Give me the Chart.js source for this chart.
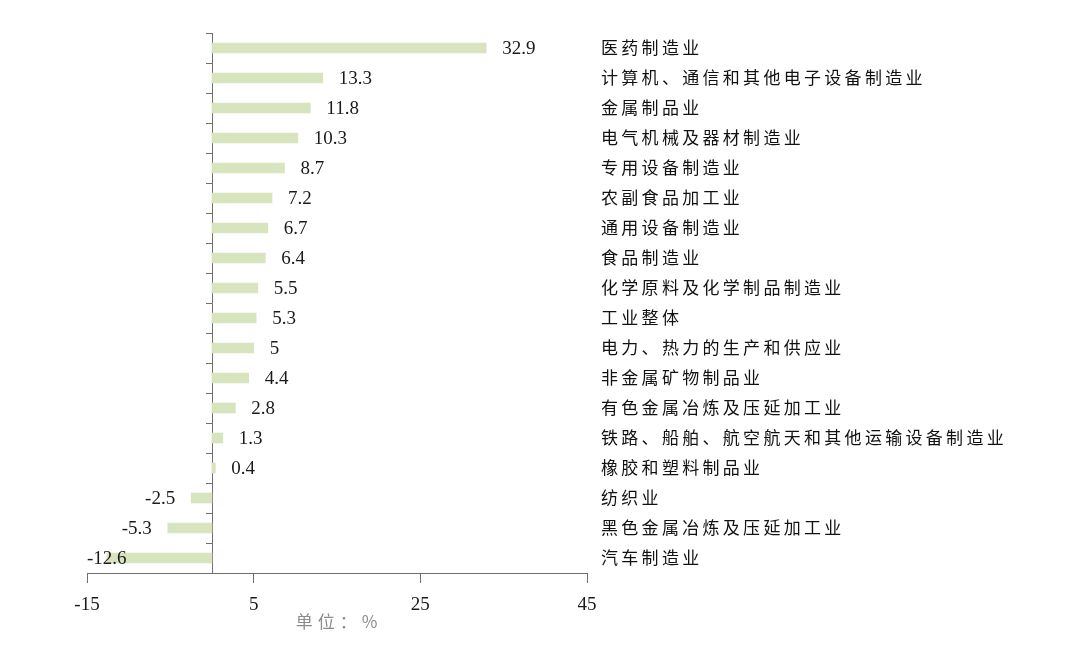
<!DOCTYPE html>
<html>
<head>
<meta charset="utf-8">
<script src="https://cdn.jsdelivr.net/npm/chart.js@4/dist/chart.umd.min.js"></script>
<style>
html,body{margin:0;padding:0;background:#fff;}
#wrap{width:1080px;height:648px;position:relative;}
</style>
</head>
<body>
<div id="wrap"><canvas id="c"></canvas></div>
<script>
const categories = [
  "医药制造业",
  "计算机、通信和其他电子设备制造业",
  "金属制品业",
  "电气机械及器材制造业",
  "专用设备制造业",
  "农副食品加工业",
  "通用设备制造业",
  "食品制造业",
  "化学原料及化学制品制造业",
  "工业整体",
  "电力、热力的生产和供应业",
  "非金属矿物制品业",
  "有色金属冶炼及压延加工业",
  "铁路、船舶、航空航天和其他运输设备制造业",
  "橡胶和塑料制品业",
  "纺织业",
  "黑色金属冶炼及压延加工业",
  "汽车制造业"
];
const values = [32.9, 13.3, 11.8, 10.3, 8.7, 7.2, 6.7, 6.4, 5.5, 5.3, 5, 4.4, 2.8, 1.3, 0.4, -2.5, -5.3, -12.6];
const xTicks = [-15, 5, 25, 45];
const unitLabel = "单位：%";

const labelPlugin = {
  id: 'labels',
  afterDraw(chart) {
    const ctx = chart.ctx;
    const area = chart.chartArea;
    const meta = chart.getDatasetMeta(0);
    const ys = chart.scales.y;
    ctx.save();
    // value labels
    ctx.font = '19px "Liberation Serif", "Times New Roman", serif';
    ctx.fillStyle = '#1a1a1a';
    ctx.textBaseline = 'middle';
    meta.data.forEach((bar, i) => {
      const v = values[i];
      const txt = String(v);
      const w = ctx.measureText(txt).width;
      let x;
      if (v >= 0) {
        x = bar.x + 16;
      } else {
        x = bar.x - 16 - w;
        if (x < area.left) x = area.left;
      }
      ctx.textAlign = 'left';
      ctx.fillText(txt, x, bar.y + 1);
    });
    // category labels
    ctx.font = '17px "Noto Sans CJK SC", sans-serif';
    try { ctx.letterSpacing = '3.3px'; } catch (e) {}
    ctx.fillStyle = '#111111';
    ctx.textAlign = 'left';
    categories.forEach((c, i) => {
      ctx.fillText(c, area.right + 14, ys.getPixelForValue(i));
    });
    // unit label
    ctx.font = '17px "Noto Sans CJK SC", sans-serif';
    try { ctx.letterSpacing = '5px'; } catch (e) {}
    ctx.fillStyle = '#8c8c8c';
    ctx.textAlign = 'center';
    ctx.fillText(unitLabel, (area.left + area.right) / 2 + 2, area.bottom + 49);
    try { ctx.letterSpacing = '0px'; } catch (e) {}
    ctx.restore();
  }
};

new Chart(document.getElementById('c'), {
  type: 'bar',
  data: {
    labels: categories,
    datasets: [{
      data: values,
      backgroundColor: '#d7e4bd',
      barThickness: 10,
      borderWidth: 0
    }]
  },
  options: {
    indexAxis: 'y',
    responsive: true,
    maintainAspectRatio: false,
    animation: false,
    layout: { padding: { left: 87, right: 493, top: 33, bottom: 35 } },
    plugins: { legend: { display: false }, tooltip: { enabled: false } },
    scales: {
      x: {
        type: 'linear',
        position: 'bottom',
        min: -15,
        max: 45,
        afterBuildTicks(scale) { scale.ticks = xTicks.map(v => ({ value: v })); },
        afterFit(scale) { scale.height = 40; },
        grid: { drawOnChartArea: false, drawTicks: true, tickLength: 10, color: '#6f6f6f', lineWidth: 1 },
        border: { display: true, color: '#6f6f6f', width: 1 },
        ticks: {
          color: '#1a1a1a',
          padding: 11,
          font: { family: '"Liberation Serif", "Times New Roman", serif', size: 19 },
          maxRotation: 0,
          autoSkip: false
        }
      },
      y: {
        type: 'category',
        position: { x: 0 },
        afterFit(scale) { scale.width = 0; },
        grid: { drawOnChartArea: false, drawTicks: true, tickLength: 6, color: '#6f6f6f', offset: true },
        border: { display: true, color: '#6f6f6f', width: 1 },
        ticks: { display: false }
      }
    }
  },
  plugins: [labelPlugin]
});
</script>
</body>
</html>
